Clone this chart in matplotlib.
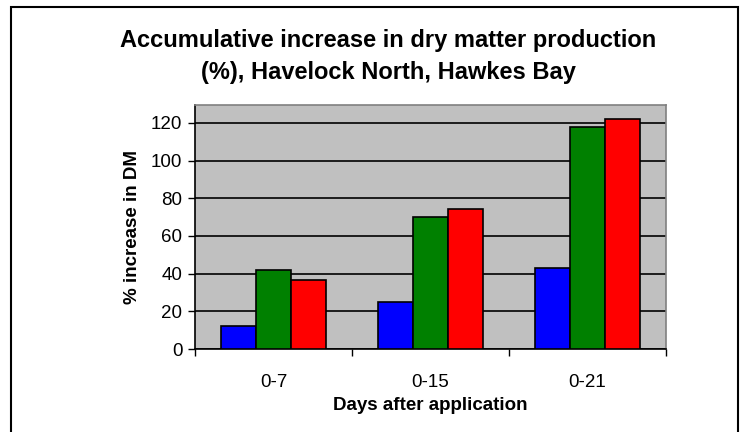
import matplotlib
matplotlib.use("Agg")
import matplotlib.pyplot as plt
import numpy as np
from matplotlib.patches import Rectangle

plt.rcParams['font.family'] = ['Liberation Sans', 'DejaVu Sans']

categories = ['0-7', '0-15', '0-21']
blue_vals = [12, 25, 43]
green_vals = [42, 70, 118]
red_vals = [36.5, 74.5, 122]
series_colors = ['#0000ff', '#008000', '#ff0000']
title = 'Accumulative increase in dry matter production\n(%), Havelock North, Hawkes Bay'

fig = plt.figure(figsize=(7.43, 4.32), dpi=100)
ax = fig.add_axes([195 / 743, 1 - 349 / 432, (666 - 195) / 743, (349 - 105) / 432])

x = np.arange(len(categories))
w = 0.223
for i, (vals, c) in enumerate(zip([blue_vals, green_vals, red_vals], series_colors)):
    ax.bar(x + (i - 1) * w, vals, width=w, color=c, edgecolor='black', linewidth=1.2, zorder=3)

ax.set_facecolor('#c0c0c0')
ax.set_xlim(-0.5, 2.5)
ax.set_ylim(0, 129.5)
ax.set_yticks(range(0, 121, 20))
ax.yaxis.grid(True, color='black', linewidth=1.2, zorder=1)
ax.set_axisbelow(True)

ax.set_xticks(x)
ax.set_xticklabels(categories, fontsize=13.5)
ax.set_xticks([-0.5, 0.5, 1.5, 2.5], minor=True)
ax.tick_params(axis='x', which='major', length=0, pad=18)
ax.tick_params(axis='x', which='minor', length=5, width=1, direction='out')
ax.tick_params(axis='y', length=5, width=1, labelsize=13.5, pad=4)

for s in ['top', 'right']:
    ax.spines[s].set_color('#808080')
    ax.spines[s].set_linewidth(1.2)
for s in ['left', 'bottom']:
    ax.spines[s].set_color('black')
    ax.spines[s].set_linewidth(1.2)

ax.set_xlabel('Days after application', fontsize=13.5, fontweight='bold', labelpad=4)
ax.set_ylabel('% increase in DM', fontsize=13.5, fontweight='bold', labelpad=7)

fig.text(388 / 743, 1 - 56 / 432, title, ha='center', va='center', fontsize=17,
         fontweight='bold', linespacing=1.5)

fig.patches.append(Rectangle((11 / 743, -0.1), (738 - 11) / 743, 1.1 - 7 / 432,
                             transform=fig.transFigure, fill=False,
                             edgecolor='black', linewidth=1.5))

fig.savefig('out.png', dpi=100)
